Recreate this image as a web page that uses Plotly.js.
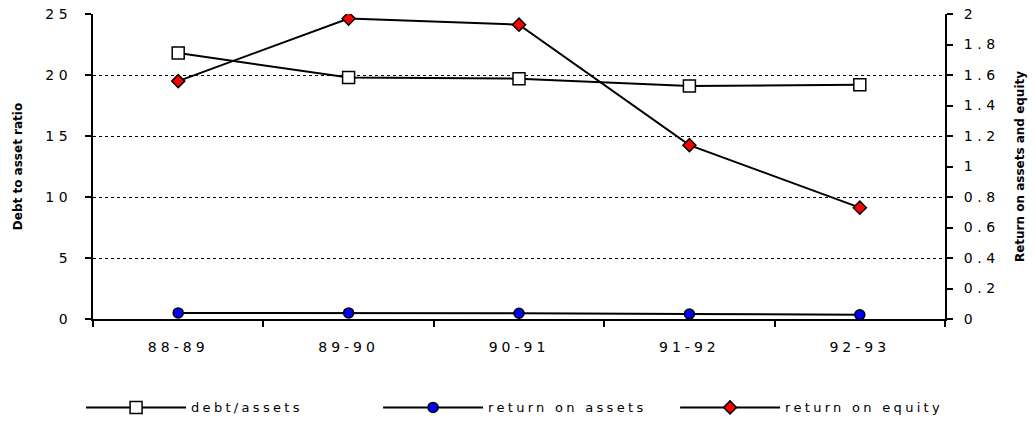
<!DOCTYPE html>
<html><head><meta charset="utf-8">
<script src="https://cdn.plot.ly/plotly-3.0.1.min.js"></script>
<style>
html,body{margin:0;padding:0;background:#fff}
#chart{width:1036px;height:435px}
.xtick text {letter-spacing:4px}
.ytick text, .y2tick text {letter-spacing:4.5px}
.legendtext {letter-spacing:3.3px}
</style></head><body><div id="chart"></div>
<script>
const categories = ['88-89','89-90','90-91','91-92','92-93'];
const debtAssets = [21.8, 19.8, 19.7, 19.1, 19.2];
const returnOnAssets = [0.04, 0.04, 0.038, 0.033, 0.028];
const returnOnEquity = [1.56, 1.97, 1.93, 1.14, 0.73];
const leftTicks = [0, 5, 10, 15, 20, 25];
const leftTickLabels = ['0', '5', '10', '15', '20', '25'];
const rightTicks = [0, 0.2, 0.4, 0.6, 0.8, 1, 1.2, 1.4, 1.6, 1.8, 2];
const rightTickLabels = ['0', '0.2', '0.4', '0.6', '0.8', '1', '1.2', '1.4', '1.6', '1.8', '2'];
const seriesNames = ['debt/assets', 'return on assets', 'return on equity'];

const font = 'DejaVu Sans, Verdana, sans-serif';
const traces = [
  {x: categories, y: debtAssets, name: seriesNames[0], type: 'scatter', mode: 'lines+markers',
   line: {color: '#000', width: 2},
   marker: {symbol: 'square', size: 12, color: '#fff', line: {color: '#000', width: 1.5}}},
  {x: categories, y: returnOnAssets, name: seriesNames[1], yaxis: 'y2', type: 'scatter', mode: 'lines+markers',
   line: {color: '#000', width: 2},
   marker: {symbol: 'circle', size: 10, color: '#0000ff', line: {color: '#000', width: 1.5}}},
  {x: categories, y: returnOnEquity, name: seriesNames[2], yaxis: 'y2', type: 'scatter', mode: 'lines+markers',
   line: {color: '#000', width: 2},
   marker: {symbol: 'diamond', size: 10, color: '#ff0000', line: {color: '#000', width: 1.5}}}
];

const layout = {
  width: 1036, height: 435,
  margin: {l: 93, r: 91, t: 14, b: 110},
  paper_bgcolor: '#fff', plot_bgcolor: '#fff',
  font: {family: font, color: '#000', size: 14},
  showlegend: true,
  legend: {orientation: 'h', x: -0.014, xanchor: 'left', y: -0.29, yanchor: 'middle',
           font: {family: font, size: 13, color: '#000'}, itemwidth: 100, entrywidth: 182,
           traceorder: 'normal'},
  xaxis: {type: 'category', range: [-0.5, 4.5], showline: true, linecolor: '#000', linewidth: 2,
          ticks: 'outside', tickson: 'boundaries', ticklen: 6, tickcolor: '#000', tickwidth: 2,
          showgrid: false, zeroline: false, ticklabelstandoff: 14,
          tickfont: {family: font, size: 14, color: '#000'}},
  yaxis: {range: [0, 25], tickvals: leftTicks, ticktext: leftTickLabels,
          showline: true, linecolor: '#000', linewidth: 2,
          ticks: 'outside', ticklen: 6, tickcolor: '#000', tickwidth: 2,
          showgrid: true, gridcolor: '#000', gridwidth: 1, griddash: 'dot', zeroline: false,
          ticklabelstandoff: 10,
          tickfont: {family: font, size: 14, color: '#000'},
          title: {text: 'Debt to asset ratio', font: {family: font, size: 12, weight: 'bold', color: '#000'}, standoff: 20}},
  yaxis2: {range: [0, 2], overlaying: 'y', side: 'right', tickvals: rightTicks, ticktext: rightTickLabels,
           showline: true, linecolor: '#000', linewidth: 2,
           ticks: 'outside', ticklen: 6, tickcolor: '#000', tickwidth: 2,
           showgrid: false, zeroline: false, ticklabelstandoff: 8,
           tickfont: {family: font, size: 14, color: '#000'},
           title: {text: 'Return on assets and equity', font: {family: font, size: 12, weight: 'bold', color: '#000'}, standoff: 17}}
};

Plotly.newPlot('chart', traces, layout, {displayModeBar: false, staticPlot: true});
</script></body></html>
